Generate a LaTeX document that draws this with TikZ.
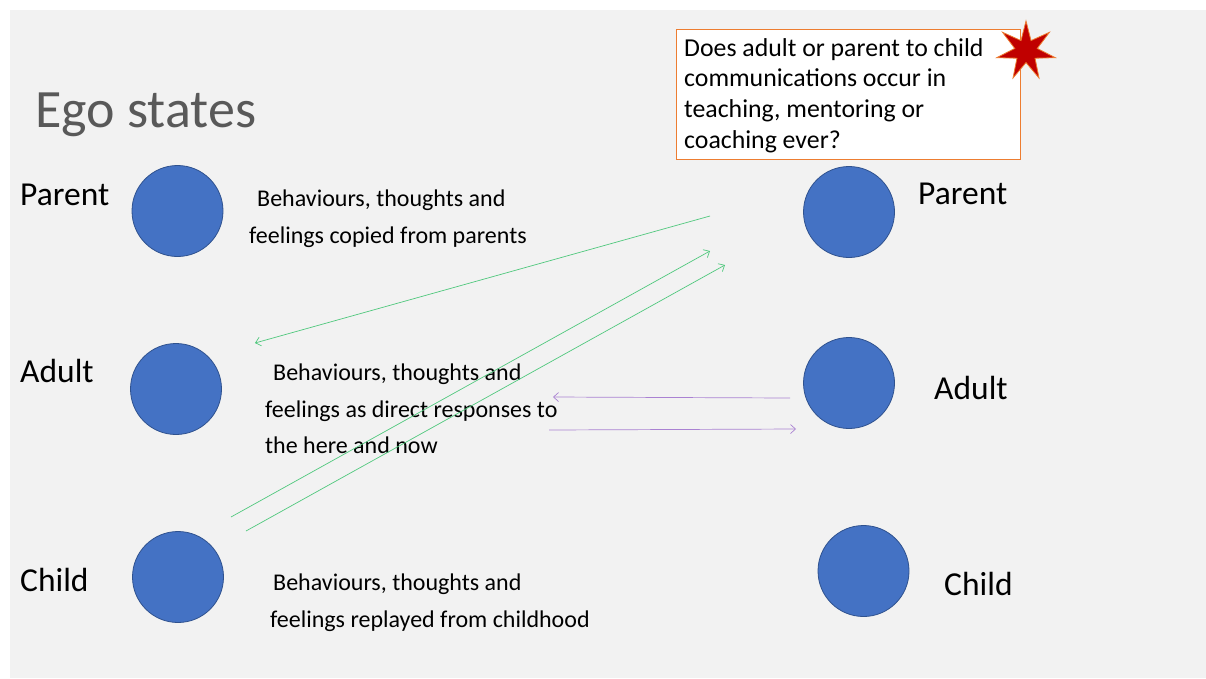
\documentclass[tikz,border=0pt]{standalone}
\usepackage{fontspec}
\setmainfont{Carlito}
\usetikzlibrary{arrows.meta,shapes.geometric}
\definecolor{slidebg}{RGB}{242,242,242}
\definecolor{circfill}{HTML}{4472C4}
\definecolor{circdraw}{HTML}{2F528F}
\definecolor{greenline}{RGB}{80,200,125}
\definecolor{purpleline}{RGB}{170,130,210}
\definecolor{boxorange}{HTML}{ED7D31}
\definecolor{starred}{HTML}{C00000}
\definecolor{titlegray}{HTML}{595959}
\tikzset{
  ego/.style={circle, fill=circfill, draw=circdraw, line width=0.8pt, minimum size=91pt, inner sep=0pt},
  role/.style={anchor=base west, inner sep=0pt, font=\fontsize{33.5}{40}\selectfont},
  body/.style={anchor=base west, inner sep=0pt, font=\fontsize{24}{28}\selectfont},
  qtext/.style={anchor=base west, inner sep=0pt, font=\fontsize{25.8}{30}\selectfont},
  garrow/.style={draw=greenline, line width=0.7pt, -{Straight Barb[length=5pt,width=9pt]}},
  parrow/.style={draw=purpleline, line width=0.7pt, -{Straight Barb[length=5pt,width=9pt]}}
}
\begin{document}
\begin{tikzpicture}[x=1pt,y=-1pt]
\useasboundingbox (0,0) rectangle (1206,678);
\fill[white] (0,0) rectangle (1206,678);
\fill[slidebg] (10,10) rectangle (1206,678);

% title
\node[anchor=base west, inner sep=0pt, text=titlegray, font=\fontsize{54}{60}\selectfont] (title) at (35,127) {Ego states};

% circles
\node[ego] (lp) at (177.5,211) {};
\node[ego] (la) at (176,389) {};
\node[ego] (lc) at (178,577) {};
\node[ego] (rp) at (849,212) {};
\node[ego] (ra) at (849,383) {};
\node[ego] (rc) at (863.5,571) {};

% role labels
\node[role] (lpl) at (20,205) {Parent};
\node[role] (lal) at (20,382) {Adult};
\node[role] (lcl) at (20,591) {Child};
\node[role] (rpl) at (918,204) {Parent};
\node[role] (ral) at (934,399) {Adult};
\node[role] (rcl) at (944,595) {Child};

% descriptions
\node[body] (b1a) at (257,206) {Behaviours, thoughts and};
\node[body] (b1b) at (249,243) {feelings copied from parents};
\node[body] (b2a) at (273,380) {Behaviours, thoughts and};
\node[body] (b2b) at (265,417) {feelings as direct responses to};
\node[body] (b2c) at (265,453) {the here and now};
\node[body] (b3a) at (273,590) {Behaviours, thoughts and};
\node[body] (b3b) at (270,627) {feelings replayed from childhood};

% question box
\draw[boxorange, fill=white, line width=1pt] (676,29) rectangle (1020,159);
\node[qtext] (q1) at (684,56) {Does adult or parent to child};
\node[qtext] (q2) at (684,86) {communications occur in};
\node[qtext] (q3) at (684,117) {teaching, mentoring or};
\node[qtext] (q4) at (684,148) {coaching ever?};

% star
\node[star, star points=7, star point ratio=2.6, minimum size=60pt, inner sep=0pt,
      fill=starred, draw=boxorange, line width=0.8pt] (burst) at (1026,51) {};

% connector end points
\coordinate (g1s) at (710,216);
\coordinate (g1e) at (255,343);
\coordinate (g2s) at (231,517);
\coordinate (g2e) at (710,251);
\coordinate (g3s) at (246,531);
\coordinate (g3e) at (725,265);
\coordinate (p1s) at (790,398);
\coordinate (p1e) at (553,397);
\coordinate (p2s) at (549,430);
\coordinate (p2e) at (796,429);

\draw[garrow] (g1s) -- (g1e);
\draw[garrow] (g2s) -- (g2e);
\draw[garrow] (g3s) -- (g3e);
\draw[parrow] (p1s) -- (p1e);
\draw[parrow] (p2s) -- (p2e);
\end{tikzpicture}
\end{document}
